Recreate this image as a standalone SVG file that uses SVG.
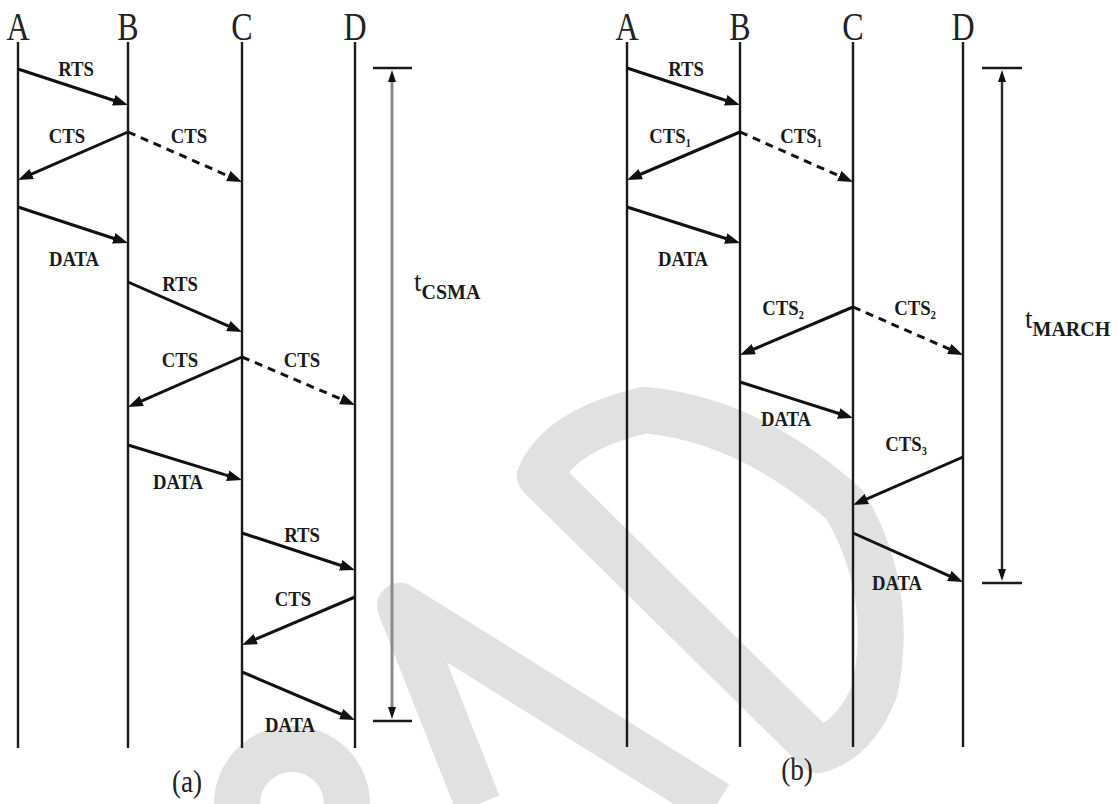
<svg xmlns="http://www.w3.org/2000/svg" width="1118" height="804" viewBox="0 0 1118 804">
  <defs>
    <style>
      .life { stroke: #1a1a1a; stroke-width: 2.4; fill: none; }
      .msg { stroke: #111; stroke-width: 3; fill: none; marker-end: url(#ah); }
      .dash { stroke-dasharray: 8 6; }
      .serif { font-family: 'Liberation Serif', 'Times New Roman', 'DejaVu Serif', serif; }
      .hdr { font-size: 40px; fill: #222; text-anchor: middle; }
      .lbl { font-size: 22px; font-weight: bold; fill: #1a1a1a; text-anchor: middle; }
      .sub { font-size: 12px; }
      .cap { font-size: 32px; fill: #222; text-anchor: middle; }
      .tm { font-size: 27px; fill: #1a1a1a; }
      .tsub { font-size: 20px; font-weight: bold; }
      .bar { stroke: #1a1a1a; stroke-width: 2.5; }
      .wm { fill: none; stroke: #e1e1e1; stroke-width: 46; stroke-linejoin: round; stroke-linecap: butt; }
    </style>
    <marker id="ah" viewBox="0 0 15 11" refX="6" refY="5.5" markerWidth="15" markerHeight="11" markerUnits="userSpaceOnUse" orient="auto">
      <path d="M0,0 L15,5.5 L0,11 z" fill="#111"/>
    </marker>
    <marker id="ahs" viewBox="0 0 12 8" refX="2" refY="4" markerWidth="12" markerHeight="8" markerUnits="userSpaceOnUse" orient="auto-start-reverse">
      <path d="M0,0 L12,4 L0,8 z" fill="#111"/>
    </marker>
  </defs>

  <rect width="1118" height="804" fill="#ffffff"/>

  <!-- background logo bands -->
  <g id="backdrop">
    <path class="wm" d="M237,804 A55,55 0 0 1 347,804"/>
    <path class="wm" d="M478,804 L400,606 L717,804"/>
    <path class="wm" d="M818,750 L540,476 Q560,430 645,410 Q750,420 845,505 Q895,590 875,690 Q855,740 818,750 z"/>
  </g>

  <!-- lifelines, panel (a) -->
  <g id="lifelines-a">
    <g id="a-A"><line class="life" x1="18" y1="42" x2="18" y2="748"/><text class="hdr serif" transform="translate(18,40) scale(0.8,1)">A</text></g>
    <g id="a-B"><line class="life" x1="128" y1="42" x2="128" y2="748"/><text class="hdr serif" transform="translate(128,40) scale(0.8,1)">B</text></g>
    <g id="a-C"><line class="life" x1="242" y1="42" x2="242" y2="748"/><text class="hdr serif" transform="translate(242,40) scale(0.8,1)">C</text></g>
    <g id="a-D"><line class="life" x1="355" y1="42" x2="355" y2="748"/><text class="hdr serif" transform="translate(355,40) scale(0.8,1)">D</text></g>
  </g>

  <!-- lifelines, panel (b) -->
  <g id="lifelines-b">
    <g id="b-A"><line class="life" x1="627" y1="42" x2="627" y2="747"/><text class="hdr serif" transform="translate(627,40) scale(0.8,1)">A</text></g>
    <g id="b-B"><line class="life" x1="740" y1="42" x2="740" y2="747"/><text class="hdr serif" transform="translate(740,40) scale(0.8,1)">B</text></g>
    <g id="b-C"><line class="life" x1="853" y1="42" x2="853" y2="747"/><text class="hdr serif" transform="translate(853,40) scale(0.8,1)">C</text></g>
    <g id="b-D"><line class="life" x1="963" y1="42" x2="963" y2="747"/><text class="hdr serif" transform="translate(963,40) scale(0.8,1)">D</text></g>
  </g>

  <!-- messages, panel (a) -->
  <g id="connectors-a">
    <line class="msg" x1="18" y1="69" x2="119.4" y2="102.2"/>
    <line class="msg" x1="128" y1="132" x2="26.3" y2="176.4"/>
    <line class="msg dash" x1="128" y1="132" x2="233.8" y2="178.4"/>
    <line class="msg" x1="18" y1="207" x2="119.4" y2="240.2"/>
    <line class="msg" x1="128" y1="282" x2="233.8" y2="328.4"/>
    <line class="msg" x1="242" y1="357" x2="136.2" y2="403.4"/>
    <line class="msg dash" x1="242" y1="357" x2="346.7" y2="401.5"/>
    <line class="msg" x1="128" y1="445" x2="233.4" y2="477.4"/>
    <line class="msg" x1="242" y1="533" x2="346.4" y2="567.2"/>
    <line class="msg" x1="355" y1="597" x2="250.3" y2="641.5"/>
    <line class="msg" x1="242" y1="672" x2="346.7" y2="716.5"/>
  </g>
  <g id="labels-a">
    <text class="lbl serif" transform="translate(76,76) scale(0.85,1)">RTS</text>
    <text class="lbl serif" transform="translate(67,143) scale(0.85,1)">CTS</text>
    <text class="lbl serif" transform="translate(189,143) scale(0.85,1)">CTS</text>
    <text class="lbl serif" transform="translate(74,266) scale(0.85,1)">DATA</text>
    <text class="lbl serif" transform="translate(180,291) scale(0.85,1)">RTS</text>
    <text class="lbl serif" transform="translate(180,367) scale(0.85,1)">CTS</text>
    <text class="lbl serif" transform="translate(302,367) scale(0.85,1)">CTS</text>
    <text class="lbl serif" transform="translate(178,489) scale(0.85,1)">DATA</text>
    <text class="lbl serif" transform="translate(302,542) scale(0.85,1)">RTS</text>
    <text class="lbl serif" transform="translate(293,606) scale(0.85,1)">CTS</text>
    <text class="lbl serif" transform="translate(290,732) scale(0.85,1)">DATA</text>
  </g>

  <!-- messages, panel (b) -->
  <g id="connectors-b">
    <line class="msg" x1="627" y1="68" x2="731.4" y2="102.2"/>
    <line class="msg" x1="740" y1="132" x2="635.3" y2="176.5"/>
    <line class="msg dash" x1="740" y1="132" x2="844.8" y2="178.4"/>
    <line class="msg" x1="627" y1="207" x2="731.4" y2="240.3"/>
    <line class="msg" x1="853" y1="307" x2="748.3" y2="351.5"/>
    <line class="msg dash" x1="853" y1="307" x2="954.7" y2="351.4"/>
    <line class="msg" x1="740" y1="382" x2="844.4" y2="415.3"/>
    <line class="msg" x1="963" y1="457" x2="861.3" y2="501.4"/>
    <line class="msg" x1="853" y1="533" x2="954.8" y2="578.3"/>
  </g>
  <g id="labels-b">
    <text class="lbl serif" transform="translate(686,76) scale(0.85,1)">RTS</text>
    <text class="lbl serif" transform="translate(670,143) scale(0.85,1)">CTS<tspan class="sub" dy="4">1</tspan></text>
    <text class="lbl serif" transform="translate(801,143) scale(0.85,1)">CTS<tspan class="sub" dy="4">1</tspan></text>
    <text class="lbl serif" transform="translate(683,266) scale(0.85,1)">DATA</text>
    <text class="lbl serif" transform="translate(783,315) scale(0.85,1)">CTS<tspan class="sub" dy="4">2</tspan></text>
    <text class="lbl serif" transform="translate(915,315) scale(0.85,1)">CTS<tspan class="sub" dy="4">2</tspan></text>
    <text class="lbl serif" transform="translate(786,426) scale(0.85,1)">DATA</text>
    <text class="lbl serif" transform="translate(906,451) scale(0.85,1)">CTS<tspan class="sub" dy="4">3</tspan></text>
    <text class="lbl serif" transform="translate(897,590) scale(0.85,1)">DATA</text>
  </g>

  <!-- duration brackets -->
  <g id="span-csma">
    <line class="bar" x1="373" y1="68" x2="412" y2="68"/>
    <line class="bar" x1="373" y1="721" x2="412" y2="721"/>
    <line x1="392" y1="80" x2="392" y2="709" stroke="#8a8a8a" stroke-width="3" marker-start="url(#ahs)" marker-end="url(#ahs)"/>
    <text class="tm serif" x="414" y="291">t<tspan class="tsub" dy="8">CSMA</tspan></text>
  </g>
  <g id="span-march">
    <line class="bar" x1="982" y1="68" x2="1022" y2="68"/>
    <line class="bar" x1="982" y1="583" x2="1022" y2="583"/>
    <line x1="1002" y1="80" x2="1002" y2="571" stroke="#2a2a2a" stroke-width="2.4" marker-start="url(#ahs)" marker-end="url(#ahs)"/>
    <text class="tm serif" x="1025" y="328">t<tspan class="tsub" dy="8">MARCH</tspan></text>
  </g>

  <!-- panel captions -->
  <g id="captions">
    <text class="cap serif" transform="translate(187,792) scale(0.85,1)">(a)</text>
    <text class="cap serif" transform="translate(797,780) scale(0.85,1)">(b)</text>
  </g>
</svg>
